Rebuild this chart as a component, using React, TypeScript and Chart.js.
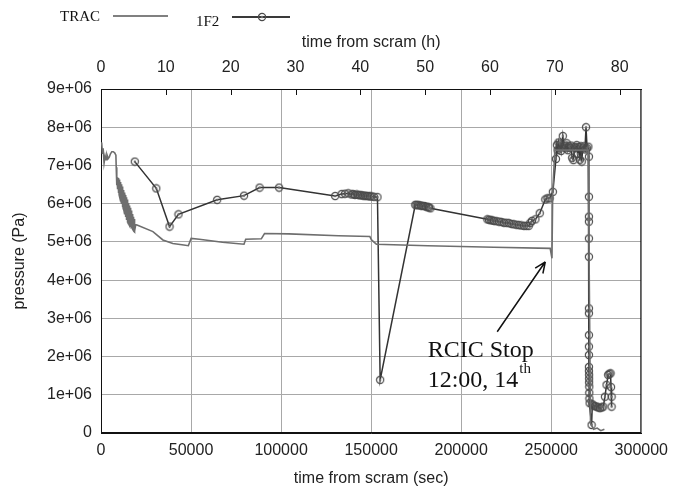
import React, { useEffect, useRef } from "react";
import { Chart, registerables } from "chart.js";

Chart.register(...registerables);

// ---- Data (time from scram in seconds, pressure in Pa) ----
const TRAC_TIME = [
  0, 400, 800, 1200, 1700, 2300, 2800, 3300, 4000, 4600, 5200, 6000, 6800, 7600, 8270, 8450,
  8700, 8825, 8950, 9075, 9200, 9325, 9450, 9575, 9700, 9825, 9950, 10075, 10200, 10325,
  10450, 10575, 10700, 10825, 10950, 11075, 11200, 11325, 11450, 11575, 11700, 11825,
  11950, 12075, 12200, 12325, 12450, 12575, 12700, 12825, 12950, 13075, 13200, 13325,
  13450, 13575, 13700, 13825, 13950, 14075, 14200, 14325, 14450, 14575, 14700, 14825,
  14950, 15075, 15200, 15325, 15450, 15575, 15700, 15825, 15950, 16075, 16200, 16325,
  16450, 16575, 16700, 16825, 16950, 17075, 17200, 17325, 17450, 17575, 17700, 17825,
  17950, 18075, 18200, 18325, 18450, 18575, 18700, 18825, 19300, 20000,
  28840, 34360, 39870, 45940, 48500, 50040, 54600, 67440, 79400, 80350, 89000,
  90800, 104200, 131800, 149300, 150200, 152900, 181400, 218200, 249400, 250400,
  250800, 252000, 270500, 271800, 273500, 275500, 277500, 279500,
];
const TRAC_PRESSURE = [
  7.6e6, 7.58e6, 7.3e6, 7.45e6, 7.06e6, 7.25e6, 7.15e6, 7.28e6, 7.18e6, 7.22e6, 7.3e6, 7.36e6, 7.36e6, 7.33e6, 7.27e6, 6.95e6,
  6.7e6, 6.48e6, 6.69e6, 6.43e6, 6.68e6, 6.38e6, 6.67e6, 6.33e6, 6.66e6, 6.28e6, 6.64e6, 6.23e6, 6.63e6, 6.18e6,
  6.6e6, 6.14e6, 6.57e6, 6.1e6, 6.54e6, 6.06e6, 6.51e6, 6.02e6, 6.48e6, 5.99e6, 6.45e6, 5.95e6,
  6.42e6, 5.91e6, 6.39e6, 5.87e6, 6.36e6, 5.84e6, 6.32e6, 5.8e6, 6.29e6, 5.76e6, 6.26e6, 5.72e6,
  6.23e6, 5.69e6, 6.2e6, 5.65e6, 6.17e6, 5.61e6, 6.14e6, 5.57e6, 6.11e6, 5.54e6, 6.08e6, 5.5e6,
  6.05e6, 5.48e6, 6.02e6, 5.47e6, 5.98e6, 5.45e6, 5.95e6, 5.44e6, 5.92e6, 5.42e6, 5.89e6, 5.41e6,
  5.86e6, 5.39e6, 5.82e6, 5.38e6, 5.79e6, 5.36e6, 5.76e6, 5.35e6, 5.73e6, 5.33e6, 5.69e6, 5.32e6,
  5.66e6, 5.3e6, 5.63e6, 5.29e6, 5.6e6, 5.27e6, 5.56e6, 5.28e6, 5.45e6, 5.44e6,
  5.27e6, 5.05e6, 4.96e6, 4.92e6, 4.9e6, 5.09e6, 5.07e6, 4.99e6, 4.94e6, 5.07e6, 5.08e6,
  5.22e6, 5.21e6, 5.16e6, 5.14e6, 5.05e6, 4.94e6, 4.9e6, 4.86e6, 4.83e6, 4.57e6,
  6.3e6, 7.4e6, 7.4e6, 0.25e6, 0.1e6, 0.13e6, 0.06e6, 0.1e6,
];

const F2_TIME = [
  18750, 30700, 38050, 43000, 64500, 79400, 88070, 98900, 130000, 133600, 135500,
  137300, 139100, 140000, 141000, 142000, 142800, 143800, 144700, 145600, 146500,
  147400, 148300, 149300, 150200, 151500, 153500, 155000,
  174500, 175200, 175900, 176800, 177700, 178600, 179600, 180500, 181400, 182100, 182900,
  214500, 215400, 216400, 217300, 218200, 219600, 221000, 222400, 223700, 225100,
  226500, 227900, 229200, 230600, 232000, 233400, 234800, 236200, 237500, 238400,
  239300, 241200, 243600, 246700, 247900, 249100, 250900,
  252600, 253100, 253500, 254000, 254500, 255000, 255500, 256400, 257000, 257600,
  258000, 258600, 259200, 259800, 260400, 261000, 261600, 262300, 262900, 263500,
  264100, 264700, 265300, 265900, 266500, 266900, 267500, 268100, 268700, 269300,
  269900, 270600, 270900, 270900, 270900, 270900, 270900, 270900, 270900, 270900,
  270900, 270900, 270900, 270900, 270900, 271000, 271000, 271000, 271100, 271100,
  271200, 271300, 272400, 272800, 273300, 274200, 275200, 276100, 277000, 278000,
  278900, 279800, 280700, 281600, 282300, 282900, 283200, 283500, 283500,
];
const F2_PRESSURE = [
  7.1e6, 6.4e6, 5.4e6, 5.72e6, 6.1e6, 6.21e6, 6.42e6, 6.42e6, 6.2e6, 6.25e6, 6.26e6,
  6.27e6, 6.24e6, 6.25e6, 6.23e6, 6.24e6, 6.23e6, 6.22e6, 6.22e6, 6.21e6, 6.21e6,
  6.2e6, 6.2e6, 6.19e6, 6.19e6, 6.18e6, 6.17e6, 1.39e6,
  5.97e6, 5.97e6, 5.96e6, 5.96e6, 5.95e6, 5.94e6, 5.94e6, 5.92e6, 5.91e6, 5.9e6, 5.88e6,
  5.59e6, 5.58e6, 5.57e6, 5.56e6, 5.55e6, 5.54e6, 5.53e6, 5.52e6, 5.5e6, 5.5e6,
  5.49e6, 5.47e6, 5.46e6, 5.45e6, 5.44e6, 5.43e6, 5.42e6, 5.42e6, 5.42e6, 5.5e6,
  5.55e6, 5.59e6, 5.75e6, 6.11e6, 6.14e6, 6.14e6, 6.31e6,
  7.17e6, 7.53e6, 7.4e6, 7.6e6, 7.45e6, 7.55e6, 7.38e6, 7.77e6, 7.5e6, 7.45e6,
  7.52e6, 7.58e6, 7.4e6, 7.5e6, 7.46e6, 7.52e6, 7.2e6, 7.14e6, 7.48e6, 7.45e6,
  7.53e6, 7.3e6, 7.48e6, 7.15e6, 7.5e6, 7.1e6, 7.45e6, 7.5e6, 7.42e6, 8.0e6,
  7.45e6, 7.49e6, 7.23e6, 6.18e6, 5.66e6, 5.53e6, 5.09e6, 4.61e6, 3.26e6, 3.13e6,
  2.56e6, 2.26e6, 2.04e6, 1.73e6, 1.62e6, 1.52e6, 1.42e6, 1.32e6, 1.21e6, 1.05e6,
  0.9e6, 0.78e6, 0.21e6, 0.75e6, 0.72e6, 0.7e6, 0.69e6, 0.67e6, 0.65e6, 0.67e6,
  0.69e6, 0.95e6, 1.26e6, 1.52e6, 1.55e6, 1.56e6, 1.2e6, 0.95e6, 0.69e6,
];

const SERIES_LABELS = ["TRAC", "1F2"];
const X_MIN = 0;
const X_MAX = 300000;
const X_STEP = 50000;
const Y_MIN = 0;
const Y_MAX = 9e6;
const Y_STEP = 1e6;
const HOUR_STEP = 10;
const SECONDS_PER_HOUR = 3600;

// annotation anchors in data units
const NOTE_LINES = ["RCIC Stop", "12:00, 14", "th"];
const NOTE_AT = [181400, 1.99e6];
const ARROW_FROM = [220000, 2.65e6];
const ARROW_TO = [246700, 4.48e6];

const SANS = '"Liberation Sans", Arial, Helvetica, sans-serif';
const SERIF = '"Liberation Serif", "Times New Roman", serif';

function makeMarker(): HTMLCanvasElement {
  const c = document.createElement("canvas");
  c.width = 10;
  c.height = 10;
  const g = c.getContext("2d")!;
  g.strokeStyle = "#4a4a4a";
  g.lineWidth = 1.2;
  g.beginPath();
  g.arc(5, 5, 3.6, 0, Math.PI * 2);
  g.stroke();
  g.fillStyle = "#6a6a6a";
  g.beginPath();
  g.arc(5, 5, 1.2, 0, Math.PI * 2);
  g.fill();
  return c;
}

export default function App() {
  const ref = useRef<HTMLCanvasElement | null>(null);

  useEffect(() => {
    document.body.style.margin = "0";
    const canvas = ref.current!;
    const marker = makeMarker();

    const framePlugin = {
      id: "frame",
      beforeDatasetsDraw(chart: any) {
        const { ctx, chartArea: a } = chart;
        ctx.save();
        ctx.strokeStyle = "#111";
        ctx.lineWidth = 1;
        ctx.strokeRect(a.left + 0.5, a.top + 0.5, a.right - a.left - 1, a.bottom - a.top - 1);
        const s = chart.scales.x2;
        ctx.beginPath();
        s.ticks.forEach((t: any) => {
          const px = Math.round(s.getPixelForValue(t.value)) + 0.5;
          ctx.moveTo(px, a.top);
          ctx.lineTo(px, a.top + 6);
        });
        ctx.stroke();
        ctx.restore();
      },
    };

    const legendPlugin = {
      id: "customLegend",
      afterDraw(chart: any) {
        const { ctx } = chart;
        ctx.save();
        ctx.fillStyle = "#111";
        ctx.font = `15px ${SERIF}`;
        ctx.textBaseline = "alphabetic";
        ctx.fillText(SERIES_LABELS[0], 60, 21);
        ctx.fillText(SERIES_LABELS[1], 196, 26);
        ctx.lineWidth = 2;
        ctx.strokeStyle = "#808080";
        ctx.beginPath();
        ctx.moveTo(113, 16);
        ctx.lineTo(168, 16);
        ctx.stroke();
        ctx.strokeStyle = "#3a3a3a";
        ctx.beginPath();
        ctx.moveTo(232, 17);
        ctx.lineTo(290, 17);
        ctx.stroke();
        ctx.drawImage(marker, 257, 12);
        ctx.restore();
      },
    };

    const notePlugin = {
      id: "note",
      afterDatasetsDraw(chart: any) {
        const { ctx, scales } = chart;
        const x = scales.x;
        const y = scales.y;
        ctx.save();
        const x0 = x.getPixelForValue(ARROW_FROM[0]);
        const y0 = y.getPixelForValue(ARROW_FROM[1]);
        const x1 = x.getPixelForValue(ARROW_TO[0]);
        const y1 = y.getPixelForValue(ARROW_TO[1]);
        ctx.strokeStyle = "#111";
        ctx.lineWidth = 1.5;
        ctx.beginPath();
        ctx.moveTo(x0, y0);
        ctx.lineTo(x1, y1);
        const ang = Math.atan2(y1 - y0, x1 - x0);
        const head = 12;
        ctx.moveTo(x1, y1);
        ctx.lineTo(x1 - head * Math.cos(ang - 0.4), y1 - head * Math.sin(ang - 0.4));
        ctx.moveTo(x1, y1);
        ctx.lineTo(x1 - head * Math.cos(ang + 0.4), y1 - head * Math.sin(ang + 0.4));
        ctx.stroke();
        const tx = x.getPixelForValue(NOTE_AT[0]);
        const ty = y.getPixelForValue(NOTE_AT[1]);
        ctx.fillStyle = "#111";
        ctx.textBaseline = "alphabetic";
        ctx.font = `24px ${SERIF}`;
        ctx.fillText(NOTE_LINES[0], tx, ty);
        ctx.fillText(NOTE_LINES[1], tx, ty + 30);
        const w = ctx.measureText(NOTE_LINES[1]).width;
        ctx.font = `15px ${SERIF}`;
        ctx.fillText(NOTE_LINES[2], tx + w + 1, ty + 16);
        ctx.restore();
      },
    };

    const tracData = TRAC_TIME.map((t, i) => ({ x: t, y: TRAC_PRESSURE[i] }));
    const f2Data = F2_TIME.map((t, i) => ({ x: t, y: F2_PRESSURE[i] }));

    const tickFont = { family: SANS, size: 16 };
    const gridColor = "#a8a8a8";

    const chart = new Chart(canvas, {
      type: "line",
      data: {
        datasets: [
          {
            label: SERIES_LABELS[0],
            data: tracData,
            borderColor: "#6e6e6e",
            borderWidth: 1.6,
            pointRadius: 0,
            tension: 0,
          },
          {
            label: SERIES_LABELS[1],
            data: f2Data,
            borderColor: "#333333",
            borderWidth: 1.5,
            pointStyle: marker as any,
            pointRadius: 4,
            tension: 0,
          },
        ],
      },
      options: {
        animation: false,
        responsive: false,
        devicePixelRatio: 1,
        layout: { padding: { left: 0, right: 31, top: 0, bottom: 0 } },
        plugins: { legend: { display: false }, tooltip: { enabled: false } },
        scales: {
          x: {
            type: "linear",
            position: "bottom",
            min: X_MIN,
            max: X_MAX,
            afterFit: (s: any) => { s.height = 55; },
            ticks: {
              stepSize: X_STEP,
              padding: 8,
              color: "#222",
              font: tickFont,
              maxRotation: 0,
              callback: (v: any) => String(v),
            },
            grid: { color: gridColor, drawTicks: false },
            border: { display: true, color: "#111" },
            title: {
              display: true,
              text: "time from scram (sec)",
              color: "#222",
              font: tickFont,
              padding: { top: 0, bottom: 0 },
            },
          },
          x2: {
            type: "linear",
            position: "top",
            min: 0,
            max: X_MAX / SECONDS_PER_HOUR,
            afterFit: (s: any) => { s.height = 89; },
            ticks: {
              stepSize: HOUR_STEP,
              includeBounds: false,
              padding: 12,
              color: "#222",
              font: tickFont,
              maxRotation: 0,
              callback: (v: any) => String(v),
            },
            grid: { drawOnChartArea: false, drawTicks: false },
            border: { display: true, color: "#111" },
            title: {
              display: true,
              text: "time from scram (h)",
              color: "#222",
              font: tickFont,
              padding: { top: 33, bottom: 0 },
            },
          },
          y: {
            type: "linear",
            min: Y_MIN,
            max: Y_MAX,
            afterFit: (s: any) => { s.width = 101; },
            ticks: {
              stepSize: Y_STEP,
              padding: 9,
              color: "#222",
              font: tickFont,
              callback: (v: any) => (v === 0 ? "0" : `${Math.round(v / 1e6)}e+06`),
            },
            grid: { color: gridColor, drawTicks: false },
            border: { display: true, color: "#111" },
            title: {
              display: true,
              text: "pressure (Pa)",
              color: "#222",
              font: tickFont,
              padding: { top: 10, bottom: 0 },
            },
          },
        },
      },
      plugins: [framePlugin, legendPlugin, notePlugin],
    } as any);

    return () => chart.destroy();
  }, []);

  return (
    <div style={{ width: 676, height: 488, background: "#fff" }}>
      <canvas ref={ref} width={676} height={488} style={{ display: "block" }} />
    </div>
  );
}
